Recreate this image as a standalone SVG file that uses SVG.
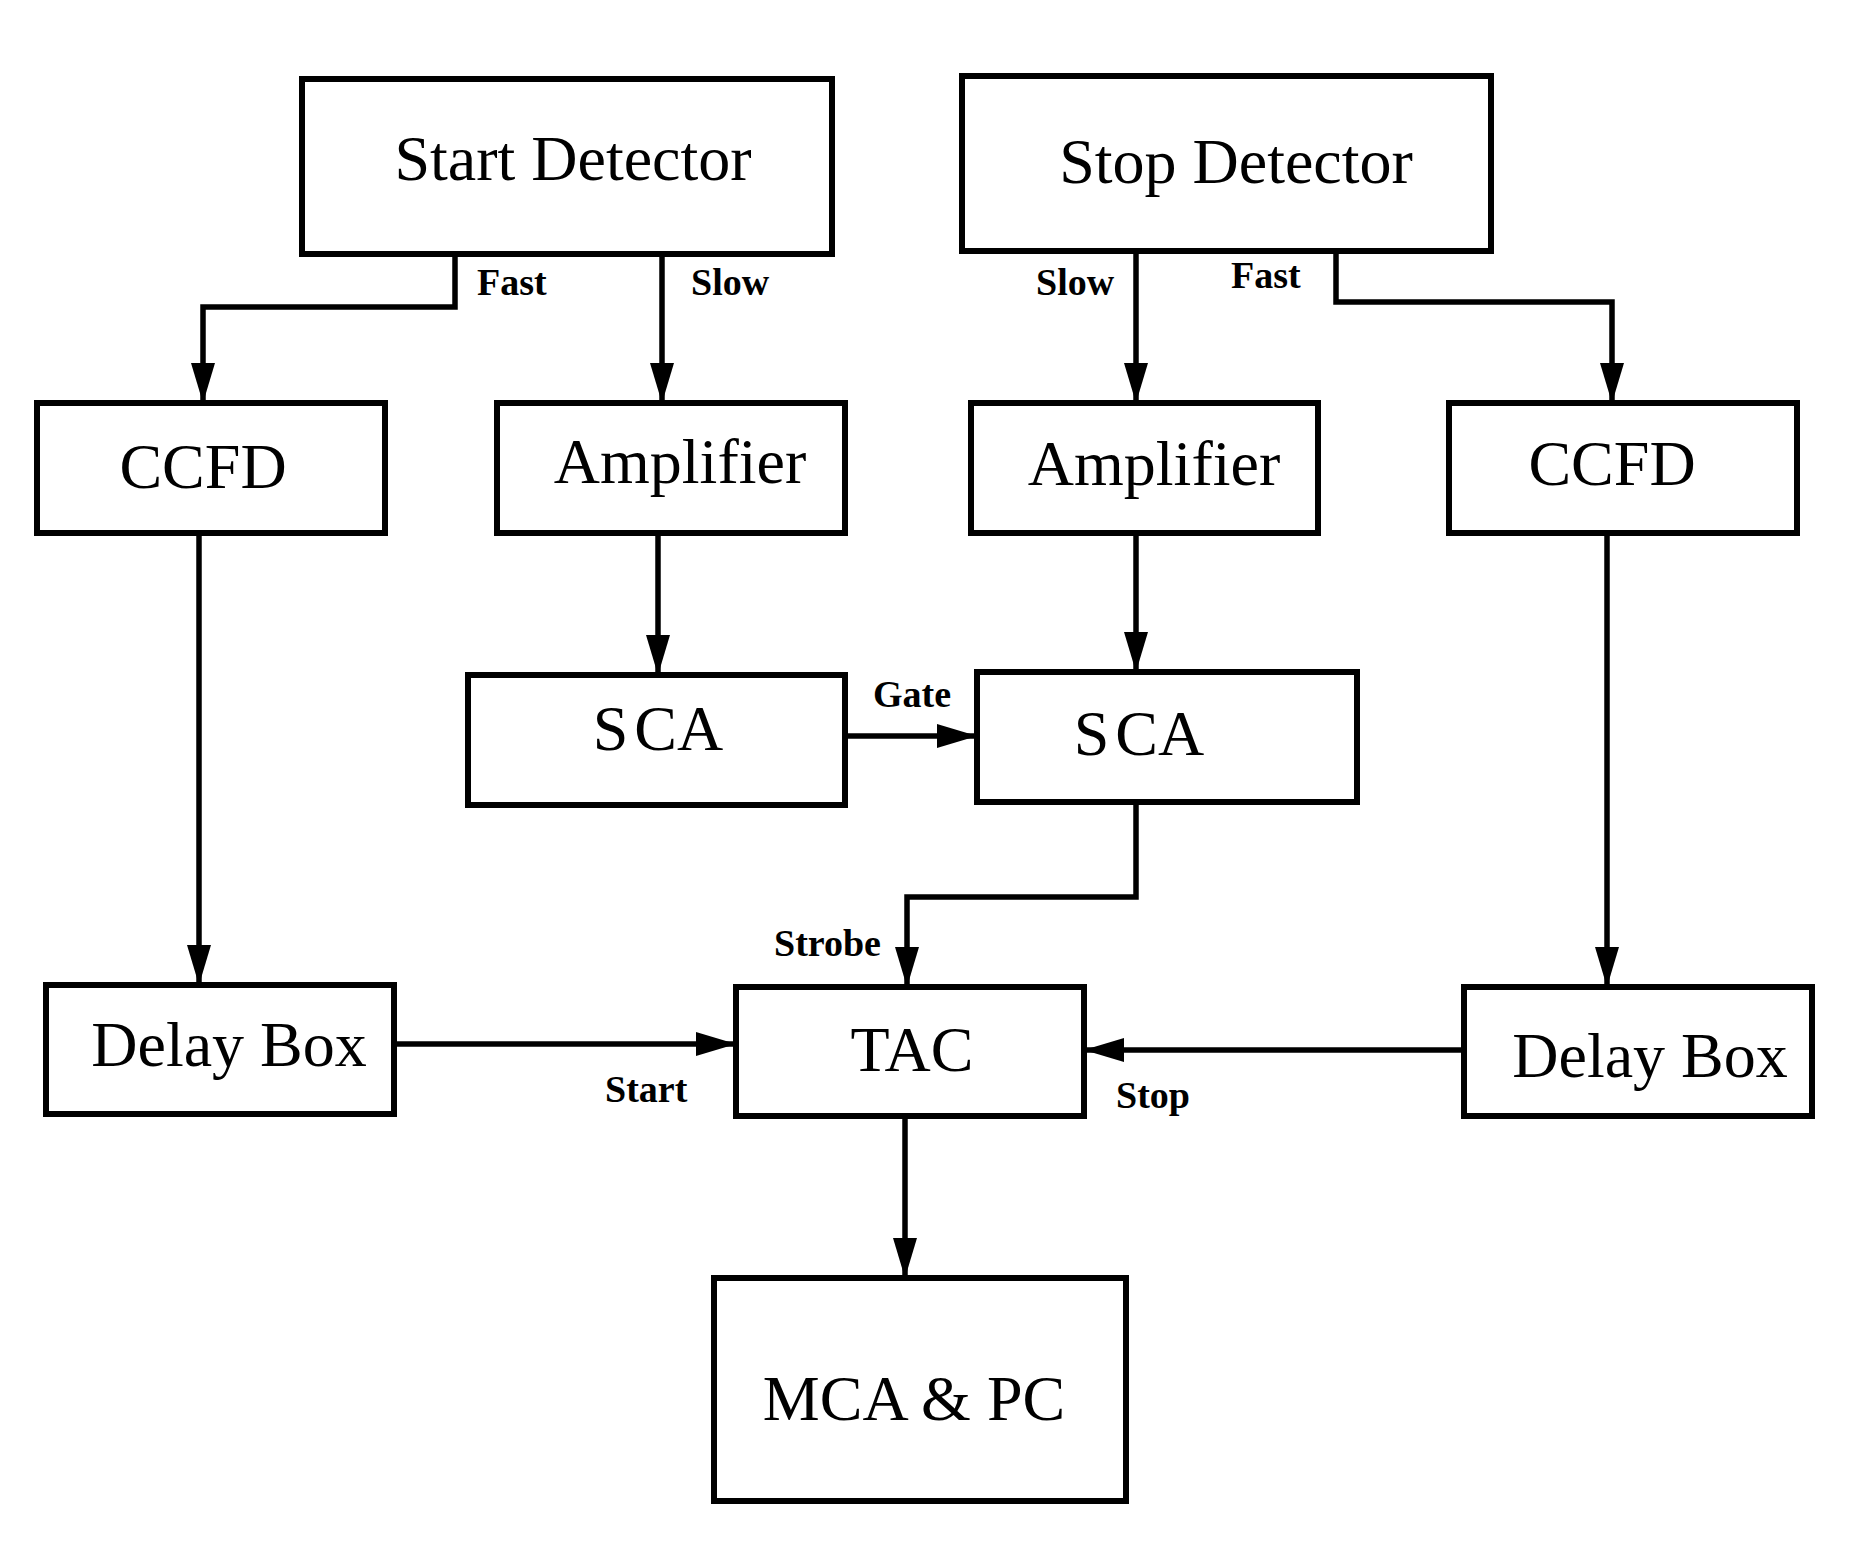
<svg xmlns="http://www.w3.org/2000/svg" width="1850" height="1567" viewBox="0 0 1850 1567">
<defs>
<style>
.box{fill:#fff;stroke:#000;stroke-width:6}
.t{font-family:"Liberation Serif","Times New Roman",serif;font-size:64px;text-anchor:middle;fill:#000}
.lbl{font-family:"Liberation Serif","Times New Roman",serif;font-size:38px;font-weight:bold;fill:#000}
.c{fill:none;stroke:#000;stroke-width:5.5;marker-end:url(#ah)}
</style>
<marker id="ah" markerUnits="userSpaceOnUse" markerWidth="40" markerHeight="24" refX="40" refY="12" orient="auto">
<path d="M0,0 L40,12 L0,24 z" fill="#000"/>
</marker>
</defs>
<rect width="1850" height="1567" fill="#fff"/>
<g id="connectors">
<path class="c" d="M455,254 V307 H203 V403"/>
<path class="c" d="M662,254 V403"/>
<path class="c" d="M1136,251 V403"/>
<path class="c" d="M1336,251 V302 H1612 V403"/>
<path class="c" d="M199,533 V985"/>
<path class="c" d="M658,533 V675"/>
<path class="c" d="M1136,533 V672"/>
<path class="c" d="M1607,533 V987"/>
<path class="c" d="M845,736 H977"/>
<path class="c" d="M1136,802 V897 H907 V987"/>
<path class="c" d="M394,1044 H736"/>
<path class="c" d="M1464,1050 H1084"/>
<path class="c" d="M905,1116 V1278"/>
<text class="lbl" x="477" y="295">Fast</text>
<text class="lbl" x="691" y="295">Slow</text>
<text class="lbl" x="1036" y="295">Slow</text>
<text class="lbl" x="1231" y="288">Fast</text>
<text class="lbl" x="873" y="707">Gate</text>
<text class="lbl" x="774" y="956">Strobe</text>
<text class="lbl" x="605" y="1102">Start</text>
<text class="lbl" x="1116" y="1108">Stop</text>
</g>
<g id="start-detector"><rect class="box" x="302" y="79" width="530" height="175"/><text class="t" x="573" y="180">Start Detector</text></g>
<g id="stop-detector"><rect class="box" x="962" y="76" width="529" height="175"/><text class="t" x="1236" y="183">Stop Detector</text></g>
<g id="ccfd-left"><rect class="box" x="37" y="403" width="348" height="130"/><text class="t" x="203" y="488">CCFD</text></g>
<g id="amplifier-left"><rect class="box" x="497" y="403" width="348" height="130"/><text class="t" x="680" y="483">Amplifier</text></g>
<g id="amplifier-right"><rect class="box" x="971" y="403" width="347" height="130"/><text class="t" x="1154" y="485">Amplifier</text></g>
<g id="ccfd-right"><rect class="box" x="1449" y="403" width="348" height="130"/><text class="t" x="1612" y="485">CCFD</text></g>
<g id="sca-left"><rect class="box" x="468" y="675" width="377" height="130"/><text class="t" x="658" y="750">S<tspan dx="6">CA</tspan></text></g>
<g id="sca-right"><rect class="box" x="977" y="672" width="380" height="130"/><text class="t" x="1139" y="755">S<tspan dx="6">CA</tspan></text></g>
<g id="delay-box-left"><rect class="box" x="46" y="985" width="348" height="129"/><text class="t" x="229" y="1066">Delay Box</text></g>
<g id="tac"><rect class="box" x="736" y="987" width="348" height="129"/><text class="t" x="912" y="1071">TAC</text></g>
<g id="delay-box-right"><rect class="box" x="1464" y="987" width="348" height="129"/><text class="t" x="1650" y="1077">Delay Box</text></g>
<g id="mca-pc"><rect class="box" x="714" y="1278" width="412" height="223"/><text class="t" x="914" y="1420">MCA &amp; PC</text></g>
</svg>
